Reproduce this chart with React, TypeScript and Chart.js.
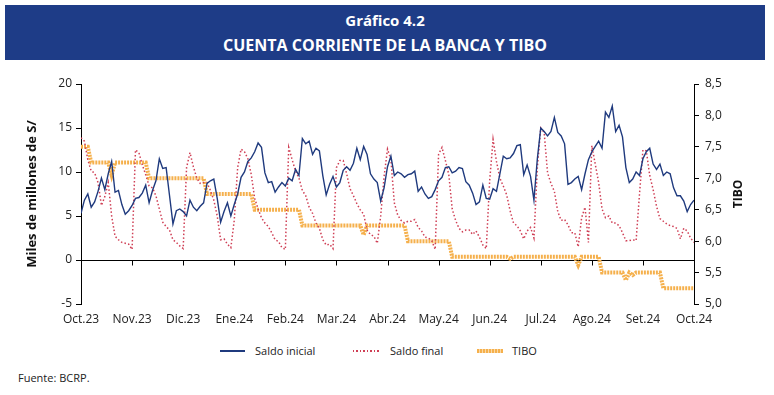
import React, { useEffect, useRef } from 'react';
import { Chart, registerables } from 'chart.js';

Chart.register(...registerables);

// Month tick labels (one tick every 15 observations)
const monthLabels = [
  'Oct.23', 'Nov.23', 'Dic.23', 'Ene.24', 'Feb.24', 'Mar.24', 'Abr.24',
  'May.24', 'Jun.24', 'Jul.24', 'Ago.24', 'Set.24', 'Oct.24',
];
const pointsPerMonth = 15;

// Saldo inicial (miles de millones de S/)
const saldoInicial = [
  5.3, 6.8, 7.5, 6.0, 6.6, 7.8, 9.3, 8.0, 9.8, 11.2, 7.7, 7.9, 6.3, 5.2, 5.6,
  6.2, 7.0, 7.1, 7.6, 8.5, 6.5, 7.9, 9.0, 11.5, 10.4, 10.5, 7.3, 4.1, 5.6, 5.8,
  5.5, 5.0, 6.8, 6.0, 5.6, 6.1, 6.5, 8.7, 9.0, 9.2, 7.0, 4.3, 5.5, 6.5, 5.0,
  6.3, 7.5, 9.4, 10.0, 11.2, 11.6, 12.3, 13.3, 12.8, 9.9, 8.8, 8.9, 7.7, 8.3, 8.8,
  8.4, 9.3, 9.0, 10.3, 9.6, 13.8, 13.2, 13.5, 12.0, 12.7, 12.4, 9.6, 7.4, 8.6, 9.5,
  8.3, 8.8, 10.2, 10.6, 10.2, 11.0, 12.7, 11.4, 12.9, 12.0, 9.8, 9.2, 8.8, 6.7, 8.2,
  10.6, 11.8, 9.6, 10.0, 9.8, 9.4, 9.7, 9.8, 10.1, 7.8, 8.3, 7.5, 7.0, 7.2, 8.0,
  9.0, 9.4, 10.5, 10.6, 9.9, 10.1, 10.5, 10.4, 8.9, 8.5, 7.6, 6.3, 6.6, 8.5, 7.0,
  6.9, 8.1, 7.8, 9.8, 11.8, 11.5, 11.6, 12.1, 13.0, 13.1, 9.7, 10.8, 9.5, 6.8, 11.5,
  15.0, 14.6, 14.1, 14.6, 16.2, 14.5, 14.1, 13.2, 8.6, 8.8, 9.2, 9.5, 8.0, 9.8, 11.4,
  12.3, 12.9, 13.5, 12.7, 16.8, 16.2, 17.5, 14.6, 15.3, 14.0, 10.5, 8.8, 9.2, 10.0, 9.6,
  11.5, 12.3, 12.7, 10.9, 10.3, 10.9, 9.6, 10.0, 9.8, 8.2, 7.3, 7.3, 6.7, 5.5, 6.3,
  6.8,
];

// Saldo final (miles de millones de S/)
const saldoFinal = [
  13.9, 13.5, 11.4, 10.1, 9.9, 8.8, 6.2, 7.2, 8.8, 5.0, 2.7, 2.3, 2.0, 1.9, 1.8,
  1.2, 12.5, 12.2, 10.8, 9.7, 8.4, 8.2, 7.3, 5.8, 4.3, 3.8, 3.4, 2.3, 2.0, 1.6,
  1.3, 10.5, 12.2, 10.6, 9.3, 8.7, 8.8, 8.8, 7.9, 6.8, 5.0, 2.3, 2.4, 1.8, 1.4,
  4.5, 10.5, 12.6, 12.3, 11.5, 9.7, 7.0, 5.8, 4.8, 4.2, 3.8, 3.1, 2.3, 2.1, 1.4,
  1.2, 12.8, 11.4, 10.1, 9.3, 7.9, 7.3, 6.0, 5.3, 4.2, 3.6, 2.3, 1.7, 1.8, 1.3,
  10.5, 11.3, 11.3, 9.8, 8.1, 7.3, 6.4, 5.7, 5.2, 3.4, 2.9, 2.7, 1.9, 5.0, 9.5,
  12.6, 11.4, 6.5, 5.1, 4.5, 4.2, 4.4, 4.4, 4.6, 3.7, 3.3, 2.6, 2.5, 2.2, 1.2,
  12.0, 12.8, 11.3, 9.7, 5.8, 4.5, 3.6, 3.2, 3.4, 3.4, 2.9, 3.3, 2.6, 1.7, 1.3,
  9.0, 13.7, 11.2, 9.3, 8.4, 7.4, 5.6, 4.2, 3.9, 3.3, 2.4, 3.3, 3.7, 2.5, 10.5,
  15.0, 14.5, 9.9, 8.7, 7.8, 5.5, 4.5, 4.6, 4.0, 3.1, 3.1, 1.5, 4.8, 6.0, 2.0,
  13.0, 10.9, 8.8, 5.8, 4.8, 5.0, 4.2, 4.2, 3.9, 3.1, 2.2, 2.2, 2.3, 2.2, 7.5,
  12.5, 12.4, 9.6, 8.0, 6.1, 4.7, 4.4, 4.1, 3.9, 3.8, 3.6, 2.4, 3.6, 3.3, 2.5,
  2.0,
];

// TIBO (%)
const tibo = [
  7.5, 7.5, 7.5, 7.25, 7.25, 7.25, 7.25, 7.25, 7.25, 7.05, 7.25, 7.25, 7.25, 7.25, 7.25,
  7.25, 7.25, 7.25, 7.25, 7.25, 7.0, 7.0, 7.0, 7.0, 7.0, 7.0, 7.0, 7.0, 7.0, 7.0,
  7.0, 7.0, 7.0, 7.0, 7.0, 7.0, 7.0, 6.75, 6.75, 6.75, 6.75, 6.75, 6.75, 6.75, 6.75,
  6.75, 6.75, 6.75, 6.75, 6.75, 6.75, 6.5, 6.5, 6.5, 6.5, 6.5, 6.5, 6.5, 6.5, 6.5,
  6.5, 6.5, 6.5, 6.5, 6.5, 6.25, 6.25, 6.25, 6.25, 6.25, 6.25, 6.25, 6.25, 6.25, 6.25,
  6.25, 6.25, 6.25, 6.25, 6.25, 6.25, 6.25, 6.25, 6.1, 6.25, 6.25, 6.25, 6.25, 6.25, 6.25,
  6.25, 6.25, 6.25, 6.25, 6.25, 6.25, 6.0, 6.0, 6.0, 6.0, 6.0, 6.0, 6.0, 6.0, 6.0,
  6.0, 6.0, 6.0, 6.0, 5.75, 5.75, 5.75, 5.75, 5.75, 5.75, 5.75, 5.75, 5.75, 5.75, 5.75,
  5.75, 5.75, 5.75, 5.75, 5.75, 5.75, 5.72, 5.75, 5.75, 5.75, 5.75, 5.75, 5.75, 5.75, 5.75,
  5.75, 5.75, 5.75, 5.75, 5.75, 5.75, 5.75, 5.75, 5.75, 5.75, 5.75, 5.62, 5.75, 5.75, 5.75,
  5.75, 5.75, 5.75, 5.5, 5.5, 5.5, 5.5, 5.5, 5.5, 5.5, 5.38, 5.5, 5.46, 5.5, 5.5,
  5.5, 5.5, 5.5, 5.5, 5.5, 5.5, 5.25, 5.25, 5.25, 5.25, 5.25, 5.25, 5.25, 5.25, 5.25,
  5.25,
];

const FONT = "'Open Sans', sans-serif";
const NAVY = '#1F3A7E';
const RED = '#CF3F55';
const ORANGE = '#F5B04C';

const toXY = (arr: number[]) => arr.map((v, i) => ({ x: i, y: v }));

const zeroLinePlugin = {
  id: 'zeroLine',
  beforeDatasetsDraw(chart: any) {
    const { ctx, chartArea, scales } = chart;
    const y = Math.round(scales.y.getPixelForValue(0)) + 0.5;
    ctx.save();
    ctx.strokeStyle = '#000';
    ctx.lineWidth = 1;
    ctx.beginPath();
    ctx.moveTo(chartArea.left, y);
    ctx.lineTo(chartArea.right, y);
    scales.x.ticks.forEach((t: any) => {
      const x = Math.round(scales.x.getPixelForValue(t.value)) + 0.5;
      ctx.moveTo(x, y);
      ctx.lineTo(x, y + 5);
    });
    ctx.stroke();
    ctx.restore();
  },
};

const rightTitlePlugin = {
  id: 'rightTitle',
  afterDraw(chart: any) {
    const { ctx, chartArea, scales } = chart;
    ctx.save();
    ctx.translate(scales.y1.right - 35, (chartArea.top + chartArea.bottom) / 2);
    ctx.rotate(-Math.PI / 2);
    ctx.font = `bold 12px ${FONT}`;
    ctx.fillStyle = '#111';
    ctx.textAlign = 'center';
    ctx.textBaseline = 'middle';
    ctx.fillText('TIBO', 0, 0);
    ctx.restore();
  },
};

export default function App() {
  const canvasRef = useRef<HTMLCanvasElement | null>(null);

  useEffect(() => {
    if (!canvasRef.current) return;
    const tickFont = { family: FONT, size: 12 };
    const chart = new Chart(canvasRef.current, {
      type: 'line',
      data: {
        datasets: [
          {
            label: 'Saldo inicial',
            data: toXY(saldoInicial),
            borderColor: NAVY,
            borderWidth: 1.4,
            pointRadius: 0,
            tension: 0,
            yAxisID: 'y',
          },
          {
            label: 'Saldo final',
            data: toXY(saldoFinal),
            borderColor: RED,
            borderWidth: 1.5,
            borderDash: [1.5, 2.2],
            pointRadius: 0,
            tension: 0,
            yAxisID: 'y',
          },
          {
            label: 'TIBO',
            data: toXY(tibo),
            borderColor: ORANGE,
            borderWidth: 4,
            borderDash: [2, 1],
            pointRadius: 0,
            tension: 0,
            yAxisID: 'y1',
          },
        ],
      },
      options: {
        responsive: false,
        animation: false,
        parsing: true,
        layout: { padding: { top: 24, left: 20, right: 0, bottom: 12 } },
        plugins: { legend: { display: false }, tooltip: { enabled: false } },
        scales: {
          x: {
            type: 'linear',
            min: 0,
            max: (monthLabels.length - 1) * pointsPerMonth,
            grid: { display: false, drawTicks: false },
            border: { display: false },
            ticks: {
              stepSize: pointsPerMonth,
              autoSkip: false,
              maxRotation: 0,
              padding: 8,
              color: '#222',
              font: tickFont,
              callback: (v: any) => monthLabels[Math.round(Number(v) / pointsPerMonth)] ?? '',
            },
            afterFit: (s: any) => { s.height = 24; },
          },
          y: {
            position: 'left',
            min: -5,
            max: 20,
            ticks: { stepSize: 5, padding: 4, color: '#222', font: tickFont },
            grid: { display: true, drawOnChartArea: false, drawTicks: true, tickLength: 5, color: '#000' },
            border: { display: true, color: '#000', width: 1 },
            title: {
              display: true,
              text: 'Miles de millones de S/',
              color: '#111',
              font: { family: FONT, size: 13, weight: 'bold' },
              padding: { top: 4, bottom: 0 },
            },
            afterFit: (s: any) => { s.width = 61; },
          },
          y1: {
            position: 'right',
            min: 5,
            max: 8.5,
            ticks: {
              stepSize: 0.5,
              padding: 6,
              color: '#222',
              font: tickFont,
              callback: (v: any) => Number(v).toFixed(1).replace('.', ','),
            },
            grid: { display: true, drawOnChartArea: false, drawTicks: true, tickLength: 5, color: '#000' },
            border: { display: true, color: '#000', width: 1 },
            afterFit: (s: any) => { s.width = 80; },
          },
        },
      } as any,
      plugins: [zeroLinePlugin, rightTitlePlugin],
    });
    return () => chart.destroy();
  }, []);

  const legendText: React.CSSProperties = {
    position: 'absolute',
    top: 343,
    fontSize: 11,
    lineHeight: '16px',
    color: '#222',
    whiteSpace: 'nowrap',
  };
  const sample = (left: number, width: number, top: number, height: number, bg: string): React.CSSProperties => ({
    position: 'absolute',
    left,
    top,
    width,
    height,
    background: bg,
  });

  return (
    <div
      style={{
        position: 'fixed',
        left: 0,
        top: 0,
        width: 774,
        height: 395,
        background: '#fff',
        fontFamily: FONT,
        overflow: 'hidden',
      }}
    >
      <div
        style={{
          position: 'absolute',
          left: 5,
          top: 5,
          width: 760,
          height: 55,
          background: '#1E3C87',
          color: '#fff',
          textAlign: 'center',
          fontWeight: 700,
        }}
      >
        <div style={{ position: 'absolute', top: 6, width: '100%', fontSize: 15, lineHeight: '18px' }}>
          Gráfico 4.2
        </div>
        <div style={{ position: 'absolute', top: 30, width: '100%', fontSize: 16, lineHeight: '20px' }}>
          CUENTA CORRIENTE DE LA BANCA Y TIBO
        </div>
      </div>

      <canvas
        ref={canvasRef}
        width={774}
        height={280}
        style={{ position: 'absolute', left: 0, top: 60, width: 774, height: 280 }}
      />

      <div style={sample(220, 25, 350, 1.5, NAVY)} />
      <div style={{ ...legendText, left: 255 }}>Saldo inicial</div>
      <div
        style={sample(353, 27, 350, 1.5, `repeating-linear-gradient(90deg, ${RED} 0 1.5px, transparent 1.5px 3.5px)`)}
      />
      <div style={{ ...legendText, left: 390 }}>Saldo final</div>
      <div
        style={sample(477, 26, 349, 4, `repeating-linear-gradient(90deg, ${ORANGE} 0 2px, #FBD9A6 2px 3px)`)}
      />
      <div style={{ ...legendText, left: 512 }}>TIBO</div>

      <div style={{ position: 'absolute', left: 18, top: 370, fontSize: 11, lineHeight: '16px', color: '#222' }}>
        Fuente: BCRP.
      </div>
    </div>
  );
}
